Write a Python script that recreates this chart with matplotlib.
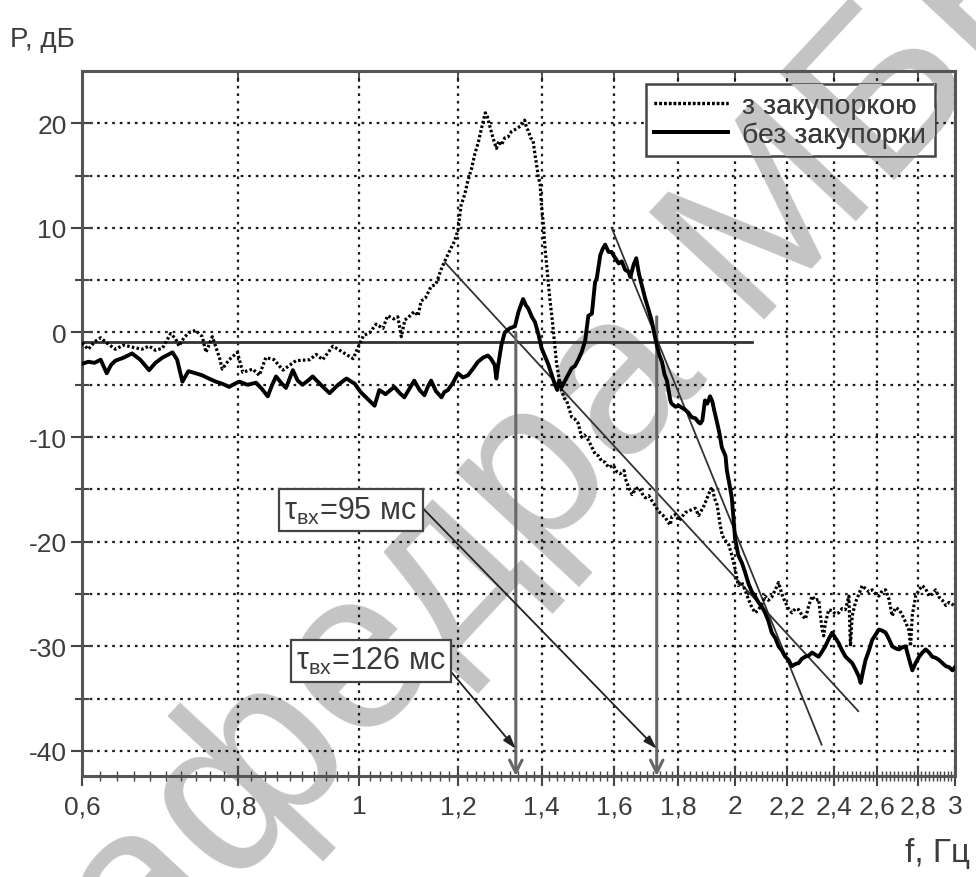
import numpy as np
import matplotlib
matplotlib.use('Agg')
import matplotlib.pyplot as plt
from matplotlib.ticker import FixedLocator, NullLocator, FixedFormatter

plt.rcParams['font.family'] = ['Liberation Sans', 'DejaVu Sans']
plt.rcParams['mathtext.fontset'] = 'custom'
plt.rcParams['mathtext.rm'] = 'Liberation Sans'
plt.rcParams['axes.unicode_minus'] = False

# ---------------- data ----------------
f_blocked = [0.600, 0.607, 0.614, 0.621, 0.628, 0.638, 0.648, 0.658, 0.670, 0.679, 0.687, 0.696,
             0.7065, 0.713, 0.7175, 0.724, 0.731, 0.740, 0.749, 0.754, 0.763, 0.773, 0.777, 0.787,
             0.799, 0.807, 0.822, 0.832, 0.842, 0.855, 0.869, 0.890, 0.913, 0.924, 0.935, 0.953,
             0.977, 0.989, 1.008, 1.020, 1.032, 1.045, 1.054, 1.066, 1.074, 1.081, 1.088, 1.094,
             1.107, 1.115, 1.121, 1.130, 1.142, 1.152, 1.163, 1.174, 1.185, 1.193, 1.200, 1.207,
             1.215, 1.222, 1.230, 1.238, 1.246, 1.253, 1.262, 1.267, 1.272, 1.280, 1.288, 1.294,
             1.300, 1.308, 1.316, 1.324, 1.333, 1.341, 1.349, 1.357, 1.362, 1.366, 1.372, 1.378,
             1.383, 1.387, 1.391, 1.396, 1.400, 1.404, 1.409, 1.413, 1.418, 1.422, 1.427, 1.431,
             1.435, 1.439, 1.444, 1.448, 1.453, 1.460, 1.466, 1.473, 1.480, 1.489, 1.498, 1.507,
             1.515, 1.526, 1.535, 1.545, 1.555, 1.564, 1.574, 1.584, 1.598, 1.608, 1.618, 1.630,
             1.634, 1.644, 1.654, 1.664, 1.674, 1.685, 1.695, 1.706, 1.716, 1.727, 1.737, 1.748,
             1.759, 1.767, 1.775, 1.780, 1.792, 1.803, 1.814, 1.825, 1.836, 1.848, 1.859, 1.870,
             1.876, 1.888, 1.900, 1.909, 1.918, 1.925, 1.935, 1.944, 1.953, 1.965, 1.977, 1.988,
             2.000, 2.012, 2.025, 2.037, 2.050, 2.063, 2.076, 2.088, 2.101, 2.114, 2.127, 2.140,
             2.154, 2.167, 2.180, 2.194, 2.207, 2.221, 2.235, 2.249, 2.262, 2.277, 2.290, 2.305,
             2.319, 2.333, 2.348, 2.355, 2.362, 2.377, 2.392, 2.406, 2.421, 2.436, 2.451, 2.467,
             2.474, 2.482, 2.497, 2.513, 2.528, 2.544, 2.560, 2.575, 2.591, 2.607, 2.623, 2.640,
             2.656, 2.672, 2.689, 2.706, 2.722, 2.739, 2.756, 2.764, 2.773, 2.790, 2.808, 2.825,
             2.842, 2.860, 2.877, 2.895, 2.913, 2.931, 2.950, 2.968, 2.986, 3.000]
p_blocked = [-1.0, -1.6, -0.9, -0.5, -1.0, -1.6, -1.2, -1.4, -1.6, -1.3, -1.7, -1.5,
             -0.1, -0.6, -1.3, -0.5, 0.0, 0.2, -0.4, -1.9, -0.4, -2.4, -3.5, -2.6,
             -1.9, -3.8, -3.5, -4.1, -2.4, -2.6, -3.6, -2.7, -2.6, -2.1, -2.6, -1.3,
             -2.1, -2.5, -0.3, 0.0, 0.8, 0.4, 1.6, 1.3, 1.5, -0.4, 1.2, 1.4,
             2.0, 1.6, 3.0, 3.3, 4.4, 4.6, 6.0, 7.1, 8.1, 8.8, 9.8, 12.2,
             13.2, 14.5, 15.6, 17.1, 18.2, 19.5, 21.0, 20.6, 19.8, 18.6, 17.6, 18.3,
             17.9, 18.6, 18.7, 19.2, 19.4, 19.6, 19.8, 20.3, 19.5, 19.3, 18.6, 18.4,
             17.0, 16.1, 15.0, 14.2, 12.0, 10.6, 8.0, 6.5, 4.5, 3.0, 1.5, 0.0,
             -1.5, -2.9, -4.0, -4.8, -5.6, -6.3, -6.5, -7.3, -8.1, -8.3, -8.7, -10.0,
             -9.8, -10.3, -10.9, -11.6, -11.8, -12.3, -12.4, -12.9, -12.7, -13.3, -13.5, -13.2,
             -14.0, -14.8, -15.5, -15.0, -14.8, -15.4, -15.8, -15.6, -16.1, -16.6, -17.1, -17.4,
             -17.7, -18.1, -18.4, -17.6, -17.4, -18.0, -17.6, -17.2, -17.1, -16.9, -16.8, -17.5,
             -17.2, -16.6, -15.8, -15.2, -14.8, -15.8, -16.5, -18.1, -19.4, -19.9, -20.3, -21.3,
             -22.6, -24.2, -23.9, -24.6, -25.5, -26.3, -26.8, -26.5, -26.0, -25.2, -25.6, -25.3,
             -24.6, -23.9, -25.0, -25.8, -26.4, -26.8, -26.4, -26.5, -27.0, -27.4, -26.2, -25.2,
             -25.6, -25.5, -28.4, -29.0, -27.8, -26.5, -26.6, -26.9, -26.8, -26.4, -26.5, -25.2,
             -30.0, -27.1, -25.8, -25.0, -24.2, -24.5, -24.8, -24.6, -25.0, -25.2, -24.7, -24.6,
             -25.5, -27.1, -26.3, -26.5, -27.0, -27.7, -28.5, -30.0, -27.0, -25.2, -24.6, -24.2,
             -24.5, -25.2, -25.0, -24.6, -25.3, -25.6, -26.1, -25.8, -26.0, -26.2]

f_free = [0.600, 0.607, 0.614, 0.621, 0.628, 0.633, 0.638, 0.648, 0.658, 0.668, 0.679, 0.687,
          0.696, 0.709, 0.715, 0.722, 0.730, 0.740, 0.749, 0.758, 0.768, 0.777, 0.787, 0.795,
          0.802, 0.814, 0.827, 0.836, 0.845, 0.852, 0.858, 0.866, 0.874, 0.885, 0.893, 0.901,
          0.910, 0.918, 0.932, 0.947, 0.962, 0.977, 0.992, 1.003, 1.015, 1.029, 1.038, 1.050,
          1.067, 1.078, 1.087, 1.097, 1.107, 1.118, 1.128, 1.135, 1.142, 1.152, 1.164, 1.170,
          1.178, 1.189, 1.200, 1.211, 1.222, 1.233, 1.245, 1.257, 1.268, 1.275, 1.284, 1.288,
          1.292, 1.300, 1.308, 1.320, 1.333, 1.341, 1.353, 1.360, 1.366, 1.375, 1.383, 1.392,
          1.400, 1.409, 1.417, 1.426, 1.435, 1.441, 1.446, 1.453, 1.462, 1.471, 1.480, 1.489,
          1.498, 1.507, 1.517, 1.526, 1.536, 1.545, 1.550, 1.560, 1.567, 1.574, 1.584, 1.593,
          1.598, 1.606, 1.614, 1.623, 1.633, 1.643, 1.649, 1.659, 1.667, 1.674, 1.680, 1.695,
          1.707, 1.716, 1.726, 1.732, 1.740, 1.748, 1.756, 1.764, 1.775, 1.779, 1.792, 1.803,
          1.814, 1.825, 1.836, 1.846, 1.859, 1.870, 1.876, 1.883, 1.892, 1.900, 1.910, 1.918,
          1.925, 1.933, 1.943, 1.952, 1.965, 1.970, 1.980, 1.988, 1.995, 2.000, 2.012, 2.025,
          2.037, 2.050, 2.063, 2.075, 2.088, 2.101, 2.114, 2.127, 2.140, 2.154, 2.167, 2.180,
          2.194, 2.207, 2.221, 2.235, 2.249, 2.262, 2.276, 2.290, 2.305, 2.319, 2.333, 2.348,
          2.362, 2.377, 2.392, 2.406, 2.421, 2.436, 2.452, 2.467, 2.482, 2.497, 2.513, 2.521,
          2.532, 2.544, 2.560, 2.575, 2.591, 2.607, 2.623, 2.640, 2.656, 2.672, 2.689, 2.706,
          2.722, 2.739, 2.756, 2.773, 2.790, 2.808, 2.825, 2.842, 2.860, 2.877, 2.895, 2.913,
          2.931, 2.950, 2.968, 2.986, 3.000]
p_free = [-3.0, -2.8, -2.9, -2.6, -3.9, -3.1, -2.7, -2.4, -2.0, -2.6, -3.6, -2.9,
          -2.4, -1.9, -2.6, -4.7, -3.7, -3.9, -4.1, -4.4, -4.7, -4.9, -5.2, -4.9,
          -4.7, -5.0, -4.8, -5.4, -6.1, -5.0, -4.2, -4.8, -5.3, -3.6, -4.6, -5.0,
          -4.6, -4.2, -5.0, -5.8, -5.0, -4.4, -4.9, -5.7, -6.3, -7.0, -5.5, -5.9,
          -5.2, -5.8, -6.2, -5.4, -4.6, -5.5, -6.0, -5.2, -4.6, -5.6, -6.2, -5.7,
          -5.5, -4.8, -3.9, -4.3, -4.1, -3.5, -2.8, -2.4, -2.2, -2.5, -3.1, -4.4,
          -3.2, -1.2, 0.0, 0.4, 0.6, 1.9, 3.2, 2.6, 2.3, 1.5, 1.0, -0.2,
          -1.5, -2.3, -3.0, -4.0, -5.0, -5.5, -4.6, -5.2, -4.6, -4.0, -3.4, -3.2,
          -2.6, -1.9, -0.8, 1.6, 1.8, 4.8, 5.2, 7.4, 8.0, 8.4, 7.7, 7.7,
          7.4, 7.0, 6.6, 6.8, 6.0, 5.8, 5.3, 6.5, 7.1, 5.8, 5.0, 3.2,
          2.0, 1.0, -0.5, -1.3, -2.2, -2.8, -4.0, -4.6, -6.5, -6.8, -7.1, -7.0,
          -7.2, -7.4, -7.7, -8.1, -8.2, -8.6, -8.7, -8.4, -6.5, -6.8, -6.1, -6.6,
          -7.5, -8.4, -9.6, -11.0, -11.8, -13.2, -14.6, -15.8, -18.0, -19.7, -21.3, -22.0,
          -22.9, -24.0, -24.8, -25.2, -25.8, -26.2, -26.8, -27.6, -28.7, -29.2, -30.0, -30.4,
          -31.0, -31.3, -31.9, -31.7, -31.6, -31.2, -31.0, -30.9, -30.6, -30.8, -31.0, -30.5,
          -30.0, -29.3, -28.7, -29.2, -29.7, -30.4, -31.0, -31.3, -31.6, -32.2, -32.9, -33.5,
          -32.4, -31.3, -30.4, -29.4, -28.9, -28.4, -28.5, -28.7, -29.3, -30.0, -30.2, -30.3,
          -30.1, -30.0, -31.2, -32.3, -31.6, -31.0, -30.6, -30.3, -30.6, -31.0, -31.1, -31.3,
          -31.6, -31.9, -32.0, -32.3, -32.0]

x_ticks = [0.6, 0.8, 1.0, 1.2, 1.4, 1.6, 1.8, 2.0, 2.2, 2.4, 2.6, 2.8, 3.0]
x_tick_labels = ['0,6', '0,8', '1', '1,2', '1,4', '1,6', '1,8', '2', '2,2', '2,4', '2,6', '2,8', '3']
y_ticks = [20, 10, 0, -10, -20, -30, -40]
y_minor = [15, 5, -5, -15, -25, -35]

level_f = [0.6, 2.063]
level_p = [-0.9, -0.9]
slope1_f = [1.1716, 2.51]
slope1_p = [6.7, -36.2]
slope2_f = [1.593, 2.346]
slope2_p = [10.0, -39.4]
vert_f = [1.335, 1.731]
vert_top = [0.0, 1.5]
labels_tau = ['τ$_{\\mathrm{вх}}$=95 мс', 'τ$_{\\mathrm{вх}}$=126 мс']
label_pos_f = [0.985, 1.022]
label_pos_p = [-17.0, -31.4]
arrow_start_f = [1.1226, 1.186]
arrow_start_p = [-16.7, -32.5]
arrow_tip_p = -39.8

legend_labels = ['з закупоркою', 'без закупорки']
watermark = 'Кафедра МБЕ'

# ---------------- figure ----------------
fig = plt.figure(figsize=(9.76, 8.78), dpi=100)
ax = fig.add_axes([82/976, 1 - 777/878, (955-82)/976, (777-72)/878])
ax.set_xscale('log')
ax.set_xlim(0.6, 3.0)
ax.set_ylim(-42.4, 25)

tc = '#3c3c3c'
ax.xaxis.set_major_locator(FixedLocator(x_ticks))
ax.xaxis.set_major_formatter(FixedFormatter(x_tick_labels))
minor_x = [v for v in np.round(np.arange(0.62, 3.0, 0.02), 2) if not any(abs(v - t) < 1e-6 for t in x_ticks)]
ax.xaxis.set_minor_locator(FixedLocator(minor_x))
ax.xaxis.set_minor_formatter(FixedFormatter([''] * len(minor_x)))
ax.yaxis.set_major_locator(FixedLocator(y_ticks))
ax.yaxis.set_minor_locator(FixedLocator(y_minor))

ax.tick_params(axis='x', which='major', direction='inout', length=14, width=1.5,
               color='#444444', labelsize=19, labelcolor=tc, pad=6)
ax.tick_params(axis='x', which='minor', direction='inout', length=7, width=1.0, color='#444444')
ax.tick_params(axis='y', which='major', direction='inout', length=16, width=1.5,
               color='#444444', labelsize=19, labelcolor=tc, pad=3)
ax.tick_params(axis='y', which='minor', direction='inout', length=10, width=1.5, color='#444444')

sec = ax.secondary_xaxis('top')
sec.xaxis.set_major_locator(FixedLocator(x_ticks))
sec.xaxis.set_minor_locator(NullLocator())
sec.tick_params(axis='x', which='major', direction='in', length=8, width=1.3,
                color='#444444', labeltop=False)
sec.spines['top'].set_visible(False)

grid_kw = dict(color='#1a1a1a', linestyle=(0, (1.2, 2.2)), linewidth=1.6)
ax.grid(which='major', axis='x', **grid_kw)
ax.grid(which='both', axis='y', **grid_kw)

for s in ax.spines.values():
    s.set_color('#555555')
    s.set_linewidth(2.2)

wm_kw = dict(transform=fig.transFigure, fontsize=165, color='#c4c4c4', rotation=47,
             rotation_mode='anchor', ha='left', va='baseline')
wm_xy = (0.0547, -0.232)

# watermark (behind the grid and the data)
ax.text(wm_xy[0], wm_xy[1], watermark, zorder=1.2, clip_on=False, **wm_kw)

# curves
ax.plot(f_blocked, p_blocked, color='black', linewidth=2.3, linestyle=(0, (0.8, 0.7)),
        label=legend_labels[0], zorder=4)
ax.plot(f_free, p_free, color='black', linewidth=2.8, label=legend_labels[1], zorder=4)

# auxiliary lines
ax.plot(level_f, level_p, color='#333333', linewidth=2.0, zorder=3)
ax.plot(slope1_f, slope1_p, color='#333333', linewidth=1.3, zorder=3)
ax.plot(slope2_f, slope2_p, color='#333333', linewidth=1.3, zorder=3)
for vf, vt in zip(vert_f, vert_top):
    ax.annotate('', xy=(vf, -42.4), xytext=(vf, vt),
                arrowprops=dict(arrowstyle='->,head_length=0.9,head_width=0.45',
                                color='#666666', lw=2.2, shrinkA=0, shrinkB=0), zorder=3)

ax.annotate('', xy=(vert_f[1], arrow_tip_p), xytext=(arrow_start_f[0], arrow_start_p[0]),
            arrowprops=dict(arrowstyle='-|>,head_length=0.8,head_width=0.25',
                            color='#222222', lw=1.3, shrinkA=0, shrinkB=0), zorder=3)
ax.annotate('', xy=(vert_f[0], arrow_tip_p), xytext=(arrow_start_f[1], arrow_start_p[1]),
            arrowprops=dict(arrowstyle='-|>,head_length=0.8,head_width=0.25',
                            color='#222222', lw=1.3, shrinkA=0, shrinkB=0), zorder=3)

for lab, lf, lp in zip(labels_tau, label_pos_f, label_pos_p):
    ax.text(lf, lp, lab, ha='center', va='center', fontsize=22, color='#3a3a3a', zorder=5,
            bbox=dict(boxstyle='square,pad=0.18', facecolor='white', edgecolor='#444444', linewidth=1.6))

leg_kw = dict(loc='upper right', bbox_to_anchor=(935/976, 1 - 85/878), bbox_transform=fig.transFigure,
              fontsize=20.5, fancybox=False, handlelength=2.6, handletextpad=0.5, borderpad=0.3,
              labelspacing=0.1, borderaxespad=0.0)
leg = ax.legend(frameon=True, edgecolor='#444444', framealpha=1.0, **leg_kw)
leg.get_frame().set_linewidth(1.8)
for t in leg.get_texts():
    t.set_color('#3a3a3a')
leg.set_zorder(6)
ax.add_artist(leg)

# watermark passes over the legend box as well (text and handles stay on top)
fig.canvas.draw()
leg_box = leg.get_window_extent()
wm_top = ax.text(wm_xy[0], wm_xy[1], watermark, zorder=6.5, clip_on=True, **wm_kw)
wm_top.set_clip_box(leg_box)

leg2 = ax.legend(frameon=False, **leg_kw)
for t in leg2.get_texts():
    t.set_color('#3a3a3a')
leg2.set_zorder(7)

fig.text(10/976, 1 - 47/878, 'P, дБ', fontsize=20, color=tc, ha='left', va='baseline')
fig.text(970/976, 1 - 862/878, 'f, Гц', fontsize=24, color=tc, ha='right', va='baseline')

fig.savefig('out.png', dpi=100)
